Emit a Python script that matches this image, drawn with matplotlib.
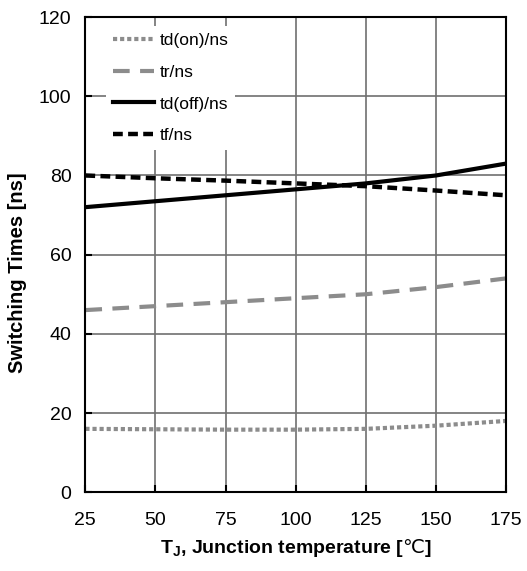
import matplotlib
matplotlib.use('Agg')
from matplotlib import pyplot as plt

plt.rcParams['font.family'] = ['Liberation Sans', 'DejaVu Sans']

temps = [25, 50, 75, 100, 125, 150, 175]
td_on = [16, 15.9, 15.8, 15.8, 16, 16.8, 18]
tr = [46, 47, 48, 49, 50, 51.8, 54]
td_off = [72, 73.5, 75, 76.5, 78, 80, 83]
tf = [80, 79.3, 78.7, 78, 77.3, 76.2, 75]

fig = plt.figure(figsize=(5.27, 5.71), dpi=100)
ax = fig.add_axes([0.162, 0.138, 0.798, 0.832])

ax.plot(temps, td_on, color='#8c8c8c', lw=3, linestyle=(0, (1, 0.7)), label='td(on)/ns')
ax.plot(temps, tr, color='#8c8c8c', lw=3, linestyle=(0, (4, 2.5)), label='tr/ns')
ax.plot(temps, td_off, color='black', lw=3, label='td(off)/ns')
ax.plot(temps, tf, color='black', lw=3.2, linestyle=(0, (2.2, 1.2)), label='tf/ns')

ax.set_xlim(25, 175)
ax.set_ylim(0, 120)
ax.set_xticks(temps)
ax.set_yticks(range(0, 121, 20))
ax.grid(True, color='#707070', lw=1.2)
ax.set_axisbelow(True)
ax.tick_params(direction='in', length=5, width=1.5, labelsize=14)
ax.tick_params(axis='x', pad=14)
ax.tick_params(axis='y', pad=10)
for s in ax.spines.values():
    s.set_linewidth(1.5)

ax.set_ylabel('Switching Times [ns]', fontsize=14.5, fontweight='bold')
ax.yaxis.set_label_coords(-0.138, 0.463)
ax.set_xlabel(r'T$_\mathregular{J}$, Junction temperature [$\mathrm{℃}$]', fontsize=14,
              fontweight='bold', labelpad=6)

leg = ax.legend(loc='upper left', bbox_to_anchor=(0.048, 0.981), fontsize=12.5,
                frameon=True, fancybox=False, edgecolor='none', framealpha=1,
                handlelength=2.4, handletextpad=0.3, labelspacing=0.95,
                borderaxespad=0)

fig.savefig('out.png', dpi=100)
